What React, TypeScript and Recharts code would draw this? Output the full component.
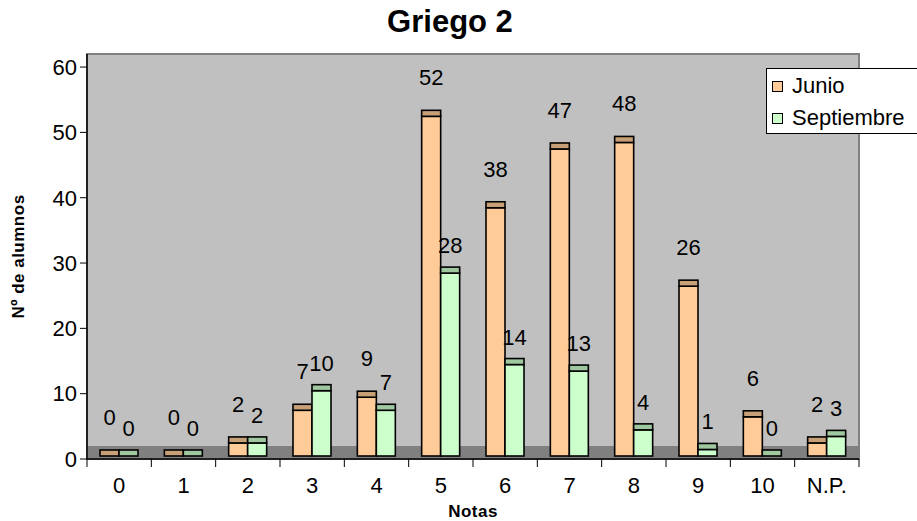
import React from "react";
import {
  BarChart,
  Bar,
  XAxis,
  YAxis,
  ReferenceArea,
  LabelList,
} from "recharts";

const categories = ["0", "1", "2", "3", "4", "5", "6", "7", "8", "9", "10", "N.P."];
const junio = [0, 0, 2, 7, 9, 52, 38, 47, 48, 26, 6, 2];
const septiembre = [0, 0, 2, 10, 7, 28, 14, 13, 4, 1, 0, 3];
const yTicks = [0, 10, 20, 30, 40, 50, 60];

const data = categories.map((nota, i) => ({
  nota,
  junio: junio[i],
  septiembre: septiembre[i],
}));

const FONT = "'Liberation Sans', Arial, sans-serif";

// fake 3D bar: face lifted a bit, with a darker top cap
const barShape = (capColor: string) => (props: any) => {
  const { x, y, width, height, fill } = props;
  const lift = 3;
  const cap = 6;
  return (
    <g>
      <rect x={x} y={y - lift} width={width} height={Math.max(height, 0)} fill={fill} stroke="#000" strokeWidth={1.6} />
      <rect x={x} y={y - lift - cap} width={width} height={cap} fill={capColor} stroke="#000" strokeWidth={1.6} />
    </g>
  );
};

const valueLabel = (rise: number) => (p: any) => (
  <text
    x={p.x + p.width / 2}
    y={p.y - rise}
    textAnchor="middle"
    fontSize={22}
    fontFamily={FONT}
    fill="#000"
  >
    {p.value}
  </text>
);

// category label + tick marks on the category boundaries (Excel style)
const NotaTick = (props: any) => {
  const { x, y, payload, index } = props;
  const half = payload.offset || 0;
  const axisY = y - 18;
  const last = index === categories.length - 1;
  return (
    <g>
      <line x1={x - half} x2={x - half} y1={axisY} y2={axisY + 8} stroke="#000" />
      {last && <line x1={x + half} x2={x + half} y1={axisY} y2={axisY + 8} stroke="#000" />}
      <text x={x} y={y} dy="0.71em" textAnchor="middle" fontSize={22} fontFamily={FONT} fill="#000">
        {payload.value}
      </text>
    </g>
  );
};

export default function App() {
  return (
    <div style={{ position: "absolute", left: 0, top: 0, width: 917, height: 521, background: "#fff", fontFamily: FONT }}>
      <div
        style={{
          position: "absolute",
          left: 0,
          width: 900,
          top: 6,
          textAlign: "center",
          fontSize: 31,
          lineHeight: "32px",
          fontWeight: "bold",
        }}
      >
        Griego 2
      </div>
      <BarChart
        width={917}
        height={521}
        data={data}
        margin={{ top: 54, right: 58, bottom: 0, left: 0 }}
        barGap={0}
        barSize={19}
      >
        <ReferenceArea y1={0} y2={62} fill="#C0C0C0" fillOpacity={1} stroke="#808080" strokeWidth={2} />
        <ReferenceArea y1={0} y2={2} fill="#808080" fillOpacity={1} />
        <XAxis
          dataKey="nota"
          height={62}
          axisLine={{ stroke: "#000", strokeWidth: 1.5 }}
          tickLine={false}
          tickSize={8}
          tickMargin={10}
          tick={<NotaTick />}
          label={{
            value: "Notas",
            position: "insideBottom",
            offset: 4,
            style: { fontSize: 17, fontWeight: "bold", fill: "#000", fontFamily: FONT, letterSpacing: 0.5 },
          }}
        />
        <YAxis
          width={87}
          domain={[0, 62]}
          ticks={yTicks}
          allowDataOverflow
          axisLine={{ stroke: "#000", strokeWidth: 1.5 }}
          tickLine={{ stroke: "#000" }}
          tickSize={7}
          tickMargin={3}
          tick={{ fontSize: 22, fill: "#000", fontFamily: FONT }}
          label={{
            value: "Nº de alumnos",
            angle: -90,
            position: "insideLeft",
            offset: 18,
            style: { textAnchor: "middle", fontSize: 17, fontWeight: "bold", fill: "#000", fontFamily: FONT, letterSpacing: 0.5 },
          }}
        />
        <Bar dataKey="junio" name="Junio" fill="#FFCC99" shape={barShape("#C8A078")} isAnimationActive={false}>
          <LabelList dataKey="junio" content={valueLabel(34)} />
        </Bar>
        <Bar dataKey="septiembre" name="Septiembre" fill="#CCFFCC" shape={barShape("#A0C8A0")} isAnimationActive={false}>
          <LabelList dataKey="septiembre" content={valueLabel(23)} />
        </Bar>
      </BarChart>
      <div
        style={{
          position: "absolute",
          left: 766,
          top: 68,
          width: 152,
          height: 66,
          boxSizing: "border-box",
          border: "1px solid #000",
          background: "#fff",
          fontSize: 22,
        }}
      >
        {[
          { name: "Junio", color: "#FFCC99", top: 5 },
          { name: "Septiembre", color: "#CCFFCC", top: 37 },
        ].map((it) => (
          <div key={it.name} style={{ position: "absolute", left: 5, top: it.top, height: 24, lineHeight: "24px", whiteSpace: "nowrap" }}>
            <span
              style={{
                display: "inline-block",
                width: 9,
                height: 9,
                background: it.color,
                border: "1px solid #000",
                marginRight: 9,
                verticalAlign: "middle",
                position: "relative",
                top: -1,
              }}
            />
            {it.name}
          </div>
        ))}
      </div>
    </div>
  );
}
